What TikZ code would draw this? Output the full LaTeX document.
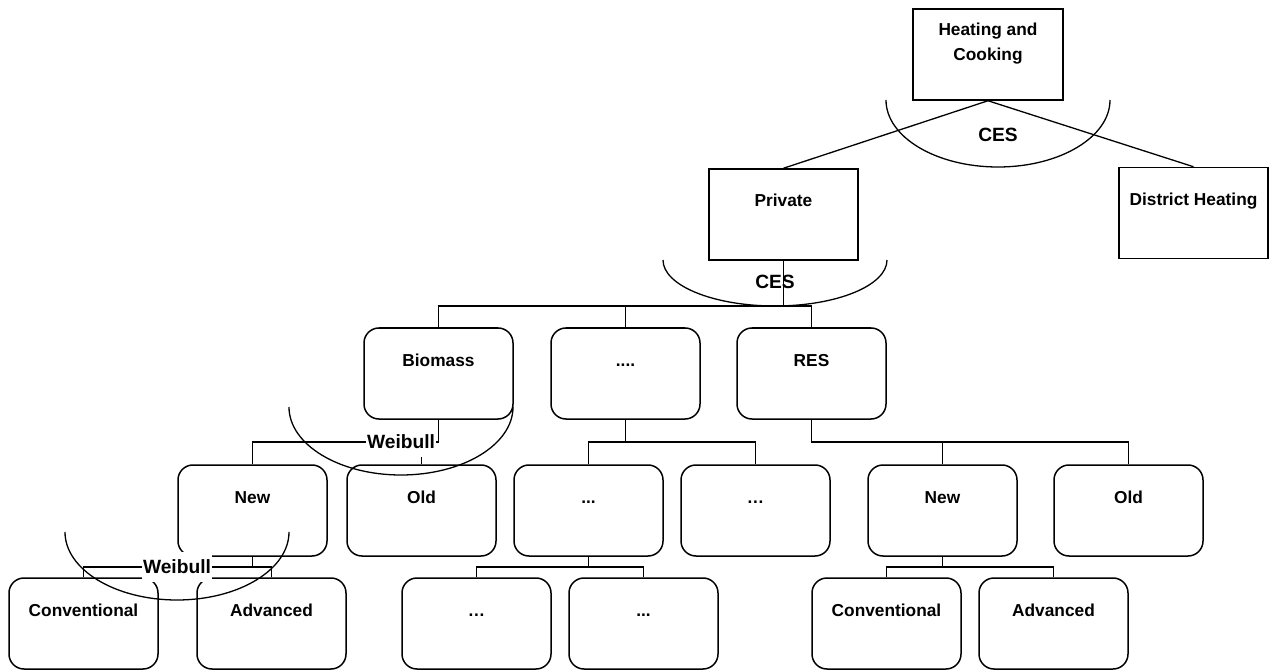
\documentclass[tikz,border=0pt]{standalone}
\usepackage{fontspec}
\setmainfont{Liberation Sans}
\begin{document}
\begin{tikzpicture}[x=1pt,y=-1pt,
  every node/.style={font=\fontsize{17.3}{25}\selectfont\bfseries},
  sqbox/.style={draw,line width=1.5pt,minimum width=149pt,minimum height=91pt,
    inner sep=0pt,text height=38pt,text depth=53pt},
  rbox/.style={sqbox,rounded corners=15pt},
  link/.style={line width=1.3pt},
  nestarc/.style={line width=1.3pt},
  nestfont/.style={font=\fontsize{19.2}{23}\selectfont\bfseries},
  weib/.style={nestfont,fill=white,inner xsep=1pt,inner ysep=0pt,minimum height=30pt},
  plain/.style={inner sep=0pt}]
\useasboundingbox (0,0) rectangle (1270,671);

% top level
\node[sqbox,minimum width=150pt] (hc) at (988,54.5) {};
\node[plain,align=center] (hctxt) at (988,44) {Heating and\\Cooking};
\node[sqbox] (priv) at (783.5,214.5) {Private};
\node[sqbox] (dist) at (1193.5,213) {District Heating};

% fuel level
\node[rbox] (bio) at (438.5,373.5) {Biomass};
\node[rbox] (dd)  at (625.5,373.5) {....};
\node[rbox] (res) at (811.5,373.5) {RES};

% vintage level
\node[rbox] (newL) at (252.5,510.5) {New};
\node[rbox] (oldL) at (421.5,510.5) {Old};
\node[rbox] (e1)   at (588.5,510.5) {...};
\node[rbox] (e2)   at (755.5,510.5) {…};
\node[rbox] (newR) at (942.5,510.5) {New};
\node[rbox] (oldR) at (1128.5,510.5) {Old};

% technology level
\node[rbox] (convL) at (83.5,623.5) {Conventional};
\node[rbox] (advL)  at (271.5,623.5) {Advanced};
\node[rbox] (f1)    at (476.5,623.5) {…};
\node[rbox] (f2)    at (643.5,623.5) {...};
\node[rbox] (convR) at (886.5,623.5) {Conventional};
\node[rbox] (advR)  at (1053.5,623.5) {Advanced};

% connectors
\draw[link] (hc.south) -- (priv.north);
\draw[link] (hc.south) -- (dist.north);

\coordinate (busA) at (783.5,306);
\draw[link] (priv.south) -- (busA);
\draw[link] (bio.north) |- (busA);
\draw[link] (res.north) |- (busA);
\draw[link] (dd.north) -- (dd.north |- busA);

\coordinate (busB) at (438.5,442);
\draw[link] (bio.south) -- (busB) -| (newL.north);
\draw[link] (oldL.north) -- (oldL.north |- busB);

\coordinate (busC) at (625.5,442);
\draw[link] (dd.south) -- (busC);
\draw[link] (e1.north) |- (busC);
\draw[link] (e2.north) |- (busC);

\coordinate (busD) at (811.5,442);
\draw[link] (res.south) -- (busD) -| (oldR.north);
\draw[link] (newR.north) -- (newR.north |- busD);

\coordinate (busE) at (252.5,567);
\draw[link] (newL.south) -- (busE);
\draw[link] (convL.north) |- (busE);
\draw[link] (advL.north) |- (busE);

\coordinate (busF) at (588.5,567);
\draw[link] (e1.south) -- (busF);
\draw[link] (f1.north) |- (busF);
\draw[link] (f2.north) |- (busF);

\coordinate (busG) at (942.5,567);
\draw[link] (newR.south) -- (busG);
\draw[link] (convR.north) |- (busG);
\draw[link] (advR.north) |- (busG);

% nesting labels
\node[weib] (w1) at (401,442) {Weibull};
\node[weib] (w2) at (177,567) {Weibull};
\node[plain,nestfont] (ces1) at (998,135) {CES};
\node[plain,nestfont] (ces2) at (775,282) {CES};

% nesting arcs
\coordinate (a1) at (886,100);
\coordinate (a2) at (663,260);
\coordinate (a3) at (289,407);
\coordinate (a4) at (65,532);
\draw[nestarc] (a1) arc[start angle=180,end angle=360,x radius=112pt,y radius=67pt];
\draw[nestarc] (a2) arc[start angle=180,end angle=360,x radius=112pt,y radius=46pt];
\draw[nestarc] (a3) arc[start angle=180,end angle=360,x radius=112pt,y radius=68pt];
\draw[nestarc] (a4) arc[start angle=180,end angle=360,x radius=112pt,y radius=68pt];
\end{tikzpicture}
\end{document}
